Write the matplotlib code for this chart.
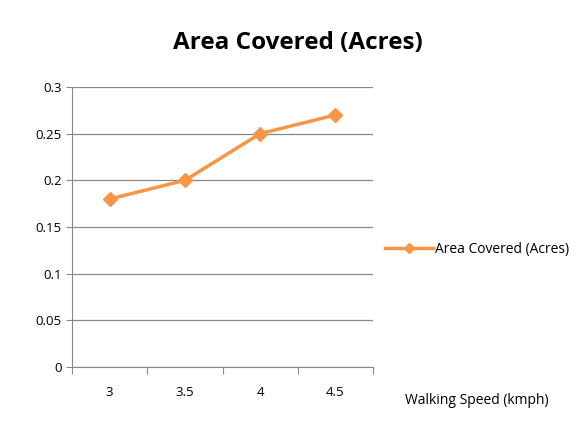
import matplotlib.pyplot as plt
from matplotlib.ticker import FixedLocator

speeds = ["3", "3.5", "4", "4.5"]
area = [0.18, 0.20, 0.25, 0.27]
yticks = [0, 0.05, 0.1, 0.15, 0.2, 0.25, 0.3]
ylabels = ['0', '0.05', '0.1', '0.15', '0.2', '0.25', '0.3']

plt.rcParams['font.family'] = ['Open Sans', 'DejaVu Sans']

fig = plt.figure(figsize=(5.78, 4.28), dpi=100)
ax = fig.add_axes([0.1246, 0.1425, 0.5207, 0.6542])

xs = list(range(len(speeds)))
ax.plot(xs, area, color='#F79646', lw=2.5, marker='D', ms=7,
        label='Area Covered (Acres)')

ax.set_xlim(-0.5, len(speeds) - 0.5)
ax.set_ylim(0, 0.3)
ax.set_yticks(yticks)
ax.set_yticklabels(ylabels)

# category labels centred, tick marks between categories
ax.xaxis.set_major_locator(FixedLocator([i - 0.5 for i in range(len(speeds) + 1)]))
ax.xaxis.set_minor_locator(FixedLocator(xs))
ax.set_xticklabels([])
ax.set_xticklabels(speeds, minor=True)
ax.tick_params(axis='x', which='major', length=5, color='#888888', direction='out')
ax.tick_params(axis='x', which='minor', length=0, pad=14, labelsize=9.5)
ax.tick_params(axis='y', length=4, color='#888888', labelsize=9.5)

ax.grid(axis='y', color='#888888', lw=0.9)
ax.set_axisbelow(True)
for side in ['top', 'right']:
    ax.spines[side].set_visible(False)
ax.spines['left'].set_color('#888888')
ax.spines['bottom'].set_color('#888888')

fig.text(0.516, 0.9, 'Area Covered (Acres)', ha='center', va='center',
         fontsize=17.5, fontweight='bold')
fig.text(0.825, 0.065, 'Walking Speed (kmph)', ha='center', va='center', fontsize=10)

leg = ax.legend(loc='center left', bbox_to_anchor=(1.0, 0.42), frameon=False,
                fontsize=10, handlelength=3.4, handletextpad=0.15,
                markerscale=0.75)

fig.savefig('out.png', dpi=100)
